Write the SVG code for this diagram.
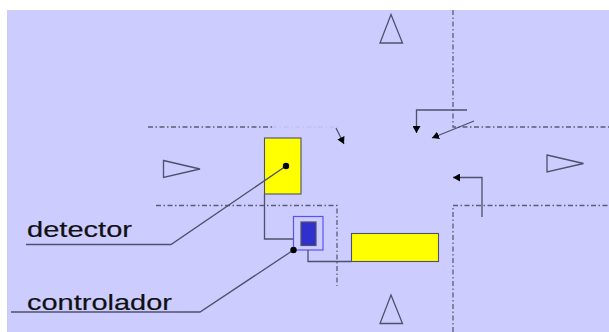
<svg xmlns="http://www.w3.org/2000/svg" width="609" height="332" viewBox="0 0 609 332">
<style>
.dd{fill:none;stroke:#5c5c74;stroke-width:1.3;stroke-dasharray:5 2.5 1.5 2.5}
.faint{fill:none;stroke:#b8b8dc;stroke-width:.8;stroke-dasharray:5 2.5 1.5 2.5}
.tri{fill:none;stroke:#50506a;stroke-width:1.3}
.line{fill:none;stroke:#50506a;stroke-width:1.300}
.lab{font-family:"Liberation Sans",Arial,sans-serif;font-size:22.500px;fill:#111;stroke:#111;stroke-width:.2}
.det{fill:#ffff00;stroke:#50506a;stroke-width:1.100}
</style>
<defs>
<marker id="ah" markerUnits="userSpaceOnUse" markerWidth="9" markerHeight="8" refX="7" refY="4" orient="auto"><path d="M0 0L7 4L0 8Z" fill="#000"/></marker>
</defs>
<rect width="609" height="332" fill="#fff"/>
<rect x="7" y="10" width="602" height="322" fill="#ccccff"/>
<g id="roads">
<path class="dd" d="M148 127H272"/>
<path class="faint" d="M272 127H338"/>
<path class="dd" d="M453 10V127H609"/>
<path class="dd" d="M156 205.500H337V286"/>
<path class="dd" d="M453 332V205.500H609"/>
</g>
<g id="signal-north"><path class="tri" d="M391 14.500L402.500 43H380Z"/></g>
<g id="signal-south"><path class="tri" d="M391 295L402.500 323.500H380Z"/></g>
<g id="signal-west"><path class="tri" d="M163.500 160.500L200 169L163.500 177.500Z"/></g>
<g id="signal-east"><path class="tri" d="M547 155L583.500 163.500L547 172Z"/></g>
<g id="detector-1"><rect class="det" x="264.500" y="138" width="36.500" height="56"/></g>
<g id="detector-2"><rect class="det" x="351.500" y="233.500" width="87" height="28"/></g>
<g id="controlador-box">
<rect x="293.500" y="216.500" width="29.500" height="33.500" fill="#ccccff" stroke="#5555ee" stroke-width="1.200"/>
<rect x="301" y="222" width="15" height="23.500" fill="#3030cc" stroke="#50506a" stroke-width="1.200"/>
</g>
<g id="connectors">
<path class="line" d="M264.500 194V239H293.500"/>
<path class="line" d="M308 250V261.500H351.500"/>
<path class="line" d="M26 244.500H171L286 166"/>
<path class="line" d="M11 312H200L293.500 250"/>
<circle cx="286" cy="166" r="3.200" fill="#000"/>
<circle cx="293.500" cy="250" r="3.200" fill="#000"/>
<path class="line" marker-end="url(#ah)" d="M467 110H416.500V133"/>
<path class="line" marker-end="url(#ah)" d="M474 121L432 138"/>
<path class="line" marker-end="url(#ah)" d="M336 128L344 144"/>
<path class="line" marker-end="url(#ah)" d="M482 217V177.500H453"/>
</g>
<g id="label-detector"><text class="lab" x="27" y="236.500" textLength="105" lengthAdjust="spacingAndGlyphs">detector</text></g>
<g id="label-controlador"><text class="lab" x="27" y="309.500" textLength="145" lengthAdjust="spacingAndGlyphs">controlador</text></g>
</svg>
